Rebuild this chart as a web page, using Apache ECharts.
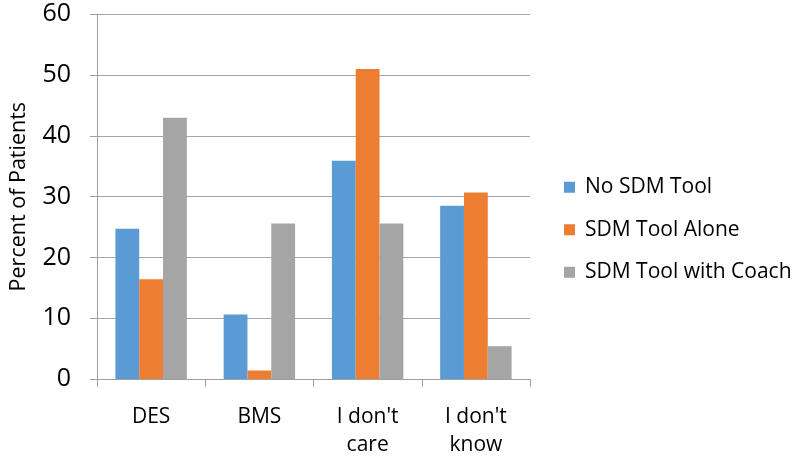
<!DOCTYPE html>
<html>
<head>
<meta charset="utf-8">
<script src="https://cdn.jsdelivr.net/npm/echarts@6/dist/echarts.min.js"></script>
<style>html,body{margin:0;padding:0;background:#fff;}#c{width:800px;height:459px;}</style>
</head>
<body>
<div id="c"></div>
<script>
var categories = ["DES", "BMS", "I don't\ncare", "I don't\nknow"];
var seriesNames = ["No SDM Tool", "SDM Tool Alone", "SDM Tool with Coach"];
var noSdmTool = [24.7, 10.6, 35.9, 28.5];
var sdmToolAlone = [16.4, 1.4, 51.0, 30.7];
var sdmToolWithCoach = [43.0, 25.6, 25.6, 5.4];
var yTicks = [0, 10, 20, 30, 40, 50, 60];
var colors = ["#5B9BD5", "#ED7D31", "#A5A5A5"];
var font = "Open Sans";

var chart = echarts.init(document.getElementById('c'), null, {renderer: 'canvas'});
var dataSets = [noSdmTool, sdmToolAlone, sdmToolWithCoach];
chart.setOption({
  animation: false,
  color: colors,
  textStyle: {fontFamily: font},
  grid: {left: 92.5, right: 270, top: 14.3, bottom: 75.7, containLabel: false},
  legend: {
    orient: 'vertical', left: 559, top: 171,
    itemWidth: 11, itemHeight: 11, itemGap: 20,
    icon: 'rect',
    data: seriesNames,
    textStyle: {fontFamily: font, fontSize: 21, color: '#000', lineHeight: 22.5, padding: [0, 0, 0, 5]}
  },
  xAxis: {
    type: 'category', data: categories,
    axisLine: {show: true, lineStyle: {color: '#a0a0a0', width: 1}},
    axisTick: {show: true, length: 8, lineStyle: {color: '#a0a0a0'}},
    axisLabel: {fontFamily: font, fontSize: 21, color: '#000', margin: 24, lineHeight: 28, interval: 0}
  },
  yAxis: {
    type: 'value', min: yTicks[0], max: yTicks[yTicks.length - 1], interval: 10,
    name: 'Percent of Patients', nameLocation: 'middle', nameGap: 67,
    nameTextStyle: {fontFamily: font, fontSize: 21.5, color: '#000'},
    axisLine: {show: true, lineStyle: {color: '#a0a0a0', width: 1}},
    axisTick: {show: true, length: 7, inside: false, lineStyle: {color: '#a0a0a0'}},
    splitLine: {show: true, lineStyle: {color: '#a6a6a6', width: 1}},
    axisLabel: {fontFamily: font, fontSize: 25, color: '#000', margin: 26}
  },
  series: seriesNames.map(function (n, i) {
    return {
      name: n, type: 'bar', data: dataSets[i],
      barGap: '0%', barCategoryGap: '34%'
    };
  })
});
</script>
</body>
</html>
